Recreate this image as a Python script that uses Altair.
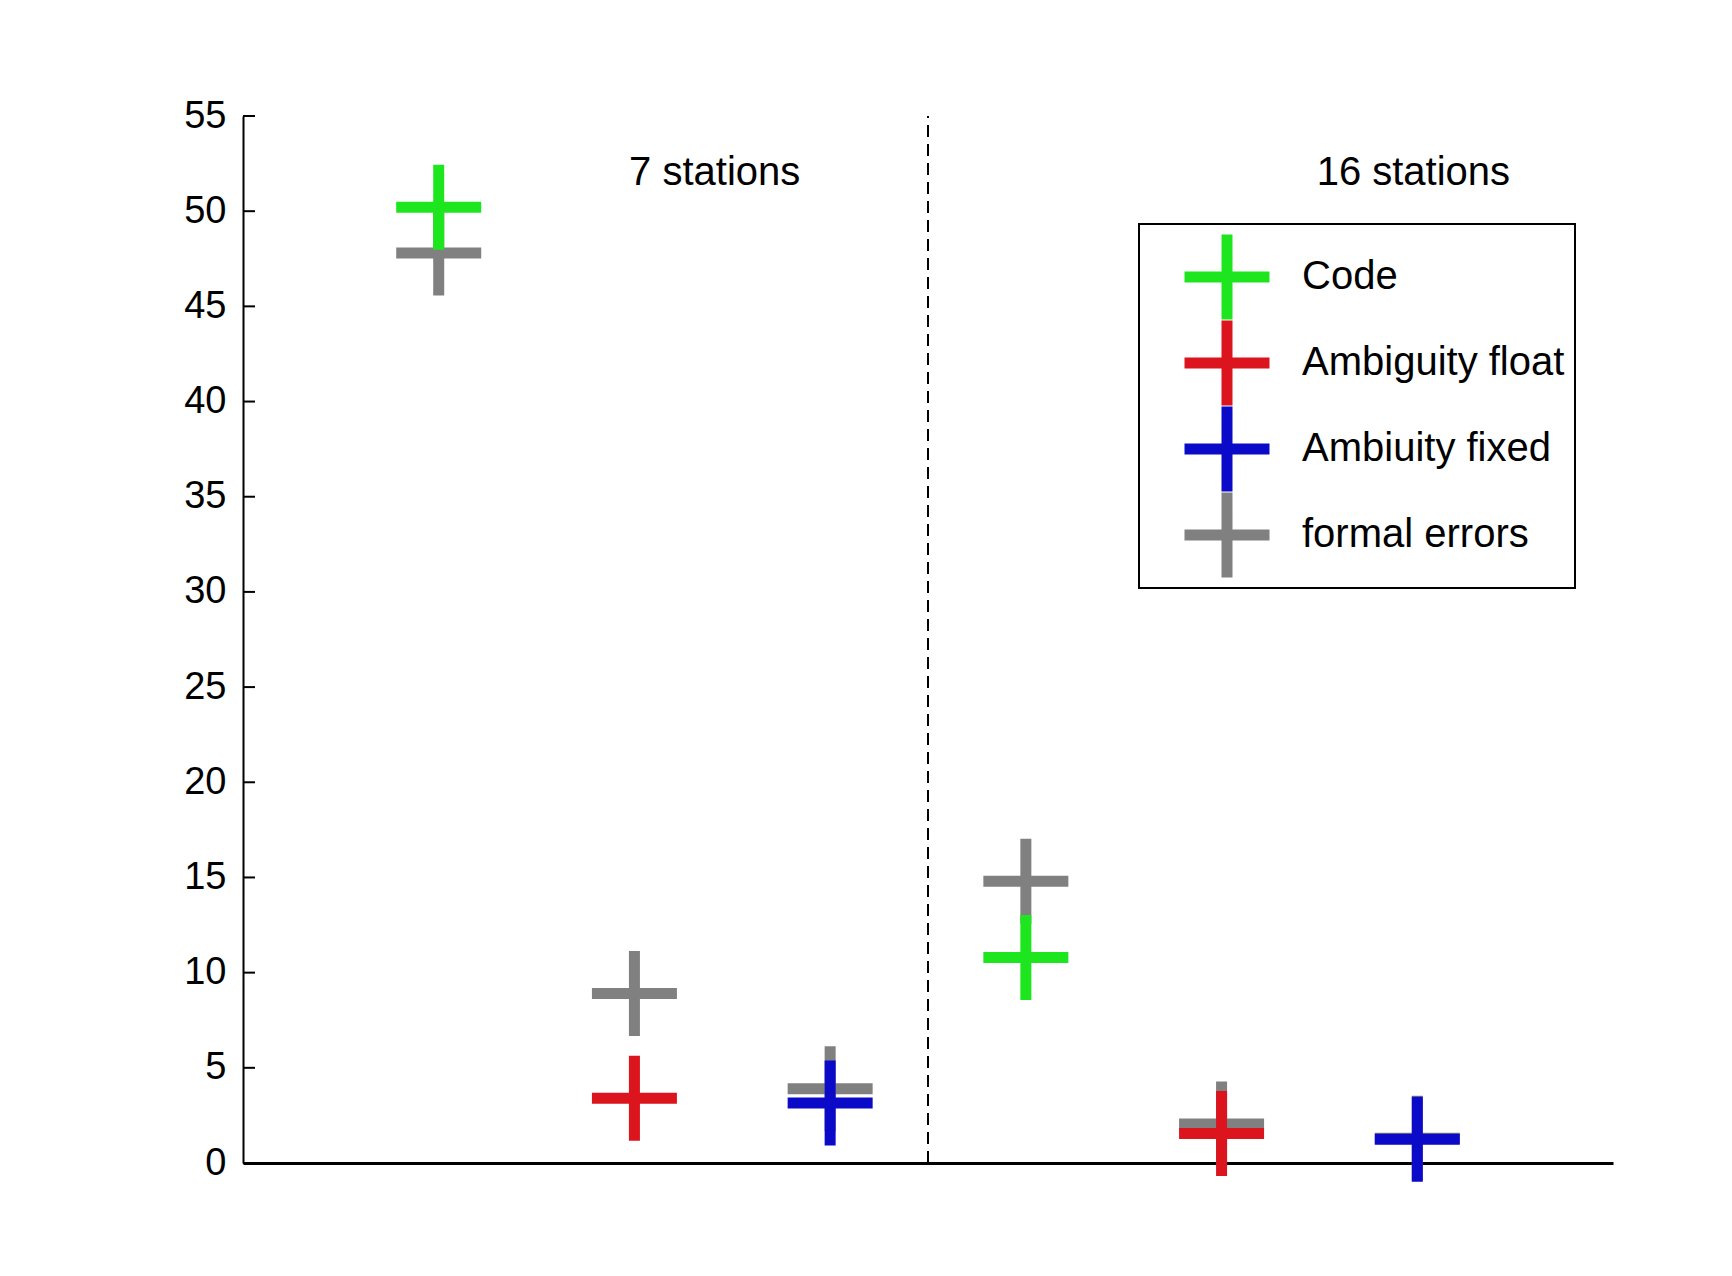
import altair as alt
import pandas as pd

# ---- data ----
x_pos = [1, 2, 3, 4, 5, 6]
series = ["Code", "Ambiguity float", "Ambiuity fixed",
          "Code", "Ambiguity float", "Ambiuity fixed"]
values = [50.2, 3.4, 3.15, 10.8, 1.55, 1.25]
formal = [47.8, 8.9, 3.9, 14.8, 2.05, 1.3]
legend_order = ["Code", "Ambiguity float", "Ambiuity fixed", "formal errors"]
colors = ["#1ee61e", "#dc141e", "#0a0ac8", "#808080"]
y_ticks = list(range(0, 56, 5))
group_labels = ["7 stations", "16 stations"]
group_x = [2.41, 5.98]
group_y = [52.0, 52.0]
divider_x = [3.5]

FONT = "Liberation Sans"
PLUS = "M-1,0H1M0,-1V1"

rows = []
for x, f in zip(x_pos, formal):
    rows.append({"x": x, "series": "formal errors", "v": f, "ord": 0})
for x, s, v in zip(x_pos, series, values):
    rows.append({"x": x, "series": s, "v": v, "ord": 1})
df = pd.DataFrame(rows)

xscale = alt.Scale(domain=[0, 7], nice=False, zero=False)
yscale = alt.Scale(domain=[0, 55], nice=False, zero=False)

points = alt.Chart(df).mark_point(
    shape=PLUS, size=7225, strokeWidth=11, filled=False, opacity=1
).encode(
    x=alt.X("x:Q", scale=xscale,
            axis=alt.Axis(labels=False, ticks=False, grid=False, title=None,
                          domainColor="black", domainWidth=3)),
    y=alt.Y("v:Q", scale=yscale,
            axis=alt.Axis(values=y_ticks, ticks=False, grid=False, title=None,
                          domainColor="black", domainWidth=2,
                          labelFont=FONT, labelFontSize=38, labelColor="black",
                          labelPadding=17)),
    color=alt.Color("series:N",
                    scale=alt.Scale(domain=legend_order, range=colors),
                    legend=alt.Legend(
                        title=None, orient="none", legendX=896, legendY=108,
                        strokeColor="black", fillColor="white", padding=10,
                        symbolType=PLUS, symbolSize=7225, symbolStrokeWidth=11,
                        symbolOffset=30, labelOffset=27,
                        labelFont=FONT, labelFontSize=40, labelColor="black",
                        labelLimit=600, rowPadding=0, clipHeight=86)),
    order=alt.Order("ord:Q"),
)

tick_df = pd.DataFrame({"t": y_ticks})
ticks = alt.Chart(tick_df).mark_rule(color="black", strokeWidth=2).encode(
    y=alt.Y("t:Q", scale=yscale),
    x=alt.value(0), x2=alt.value(12),
)

div_df = pd.DataFrame({"x": divider_x, "y0": [0], "y1": [55]})
divider = alt.Chart(div_df).mark_rule(
    color="black", strokeWidth=2, strokeDash=[12, 7]
).encode(
    x=alt.X("x:Q", scale=xscale),
    y=alt.Y("y0:Q", scale=yscale),
    y2="y1:Q",
)

lab_df = pd.DataFrame({"label": group_labels, "x": group_x, "y": group_y})
labels = alt.Chart(lab_df).mark_text(
    font=FONT, fontSize=40, color="black", align="center", baseline="middle"
).encode(
    x=alt.X("x:Q", scale=xscale),
    y=alt.Y("y:Q", scale=yscale),
    text="label:N",
)

chart = alt.layer(divider, ticks, points, labels).properties(
    width=1370, height=1047,
    autosize=alt.AutoSizeParams(type="none"),
    padding={"left": 235, "top": 108, "right": 100, "bottom": 105},
    background="white",
).configure_view(stroke=None).configure_legend(strokeWidth=2)

chart.save("out.html", embed_options={"renderer": "svg", "actions": False})
